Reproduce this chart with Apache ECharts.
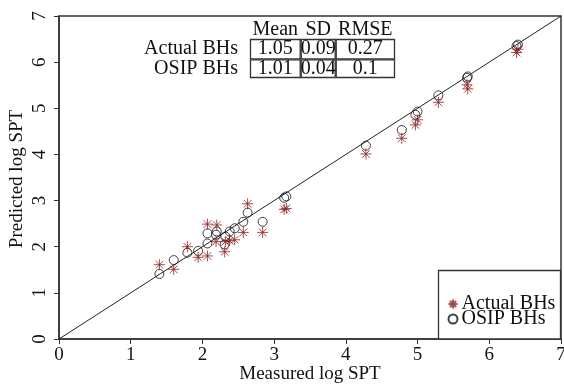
<!DOCTYPE html>
<html><head><meta charset="utf-8">
<script src="https://cdn.jsdelivr.net/npm/echarts@6/dist/echarts.min.js"></script>
<style>html,body{margin:0;padding:0;background:#fff}#c{width:564px;height:385px}</style>
</head><body><div id="c"></div>
<script>
const measured   = [1.40,1.60,1.79,1.94,2.07,2.07,2.20,2.19,2.31,2.32,2.38,2.45,2.57,2.63,2.84,3.14,3.17,4.28,4.78,4.97,5.00,5.29,5.69,5.70,6.38,6.40];
const actualPred = [1.61,1.51,2.00,1.77,1.80,2.49,2.47,2.11,1.89,2.11,2.13,2.15,2.31,2.93,2.31,2.81,2.83,4.01,4.35,4.64,4.75,5.13,5.51,5.42,6.21,6.28];
const osipPred   = [1.41,1.71,1.87,1.91,2.07,2.29,2.33,2.26,2.05,2.22,2.33,2.40,2.54,2.74,2.54,3.06,3.09,4.19,4.53,4.86,4.93,5.28,5.66,5.69,6.35,6.38];
const xTicks = [0,1,2,3,4,5,6,7];
const yTicks = [0,1,2,3,4,5,6,7];
const xTitle = 'Measured log SPT';
const yTitle = 'Predicted log SPT';
const tableCols = ['Mean','SD','RMSE'];
const tableRows = ['Actual BHs','OSIP BHs'];
const tableVals = [['1.05','0.09','0.27'],['1.01','0.04','0.1']];
const seriesNames = ['Actual BHs','OSIP BHs'];

const FONT = 'Liberation Serif';
const AST = 'path://M0,5L10,5M5,0L5,10M1.5,1.5L8.5,8.5M8.5,1.5L1.5,8.5';
const chart = echarts.init(document.getElementById('c'));

// table graphics
const colX = [250, 300.7, 335.7, 395];
const rowY = [39, 59.3, 78];
const g = [];
tableCols.forEach((t,i)=>{
  g.push({type:'text', x:(colX[i]+colX[i+1])/2, y:30, style:{text:t, font:'20px '+FONT, fill:'#111', align:'center', verticalAlign:'middle'}});
});
tableRows.forEach((r,j)=>{
  const cy=(rowY[j]+rowY[j+1])/2;
  g.push({type:'text', x:238, y:cy, style:{text:r, font:'20px '+FONT, fill:'#111', align:'right', verticalAlign:'middle'}});
  tableVals[j].forEach((v,i)=>{
    g.push({type:'rect', shape:{x:colX[i]+0.5, y:rowY[j]+0.5, width:colX[i+1]-colX[i]-1, height:rowY[j+1]-rowY[j]-1}, style:{fill:'none', stroke:'#333', lineWidth:1.3}});
    g.push({type:'text', x:(colX[i]+colX[i+1])/2, y:cy, style:{text:v, font:'20px '+FONT, fill:'#111', align:'center', verticalAlign:'middle'}});
  });
});
// axis titles
g.push({type:'text', x:310, y:374, style:{text:xTitle, font:'19px '+FONT, fill:'#111', align:'center', verticalAlign:'middle'}});
g.push({type:'text', x:17, y:179, rotation:Math.PI/2, style:{text:yTitle, font:'19px '+FONT, fill:'#111', align:'center', verticalAlign:'middle'}});
// legend box
g.push({type:'rect', shape:{x:438.5, y:270.5, width:122, height:68.5}, style:{fill:'#fff', stroke:'#333', lineWidth:1.3}, z:5});

chart.setOption({
  animation:false,
  backgroundColor:'#fff',
  grid:{left:59, right:3, top:16, bottom:46, show:true, borderColor:'#333', borderWidth:1.5, containLabel:false, outerBoundsMode:'none'},
  xAxis:{type:'value', min:0, max:7, interval:1,
    axisLine:{show:true, onZero:false, lineStyle:{color:'#333', width:1.5}},
    axisTick:{show:true, length:5, lineStyle:{color:'#333'}},
    axisLabel:{fontFamily:FONT, fontSize:19, color:'#111', margin:7, formatter:v=>xTicks.includes(v)?String(v):''},
    splitLine:{show:false}},
  yAxis:{type:'value', min:0, max:7, interval:1,
    axisLine:{show:true, onZero:false, lineStyle:{color:'#333', width:1.5}},
    axisTick:{show:true, length:5, lineStyle:{color:'#333'}},
    axisLabel:{fontFamily:FONT, fontSize:19, color:'#111', rotate:90, margin:9, formatter:v=>yTicks.includes(v)?String(v):''},
    splitLine:{show:false}},
  legend:{orient:'vertical', left:441, top:289, itemGap:-5, itemWidth:9, itemHeight:9, z:10,
    textStyle:{fontFamily:FONT, fontSize:20, color:'#111', padding:[0,0,0,-1]},
    data:[{name:seriesNames[0], icon:AST},{name:seriesNames[1], icon:'circle'}]},
  graphic:g,
  series:[
    {type:'line', data:[[0,0],[7,7]], symbol:'none', lineStyle:{color:'#222', width:1}, silent:true, z:1},
    {name:seriesNames[0], type:'scatter', data:measured.map((x,i)=>[x,actualPred[i]]), symbol:AST, symbolSize:11,
     itemStyle:{color:'none', borderColor:'#8B2020', borderWidth:1}, z:3},
    {name:seriesNames[1], type:'scatter', data:measured.map((x,i)=>[x,osipPred[i]]), symbol:'circle', symbolSize:9,
     itemStyle:{color:'none', borderColor:'#111', borderWidth:1}, z:2}
  ]
});
</script></body></html>
